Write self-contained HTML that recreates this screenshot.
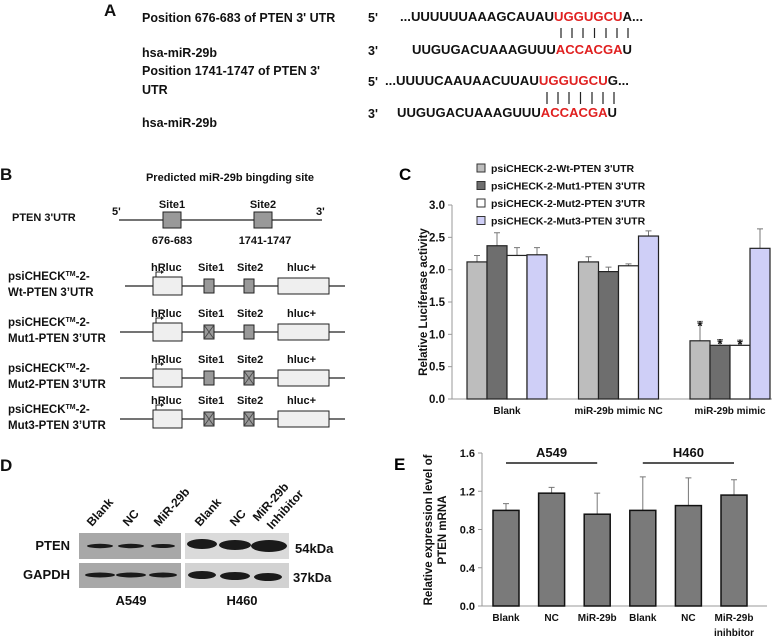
<!DOCTYPE html>
<html><head><meta charset="utf-8">
<style>
html,body{margin:0;padding:0;background:#fff;}
svg{display:block;font-family:"Liberation Sans",Arial,sans-serif;}
.b{font-weight:bold;}
</style></head>
<body>
<svg id="fig" width="778" height="642" viewBox="0 0 778 642">
<!-- Panel A -->
<g font-size="12.5" font-weight="bold" fill="#111">
<text x="104" y="16" font-size="17">A</text>
<text x="142" y="22">Position 676-683 of PTEN 3' UTR</text>
<text x="368" y="22">5'</text>
<text x="400" y="21" textLength="243" lengthAdjust="spacingAndGlyphs">...UUUUUUAAAGCAUAU<tspan fill="#e02020">UGGUGCU</tspan>A...</text>
<g stroke="#222" stroke-width="1.2">
<line x1="561" y1="28" x2="561" y2="38"/><line x1="572" y1="28" x2="572" y2="38"/><line x1="583" y1="28" x2="583" y2="38"/><line x1="594.5" y1="28" x2="594.5" y2="38"/><line x1="606" y1="28" x2="606" y2="38"/><line x1="617" y1="28" x2="617" y2="38"/><line x1="628" y1="28" x2="628" y2="38"/></g>
<text x="142" y="57">hsa-miR-29b</text>
<text x="368" y="55">3'</text>
<text x="412" y="54" textLength="220" lengthAdjust="spacingAndGlyphs">UUGUGACUAAAGUUU<tspan fill="#e02020">ACCACGA</tspan>U</text>
<text x="142" y="75">Position 1741-1747 of PTEN 3'</text>
<text x="142" y="94">UTR</text>
<text x="368" y="86">5'</text>
<text x="385" y="85" textLength="244" lengthAdjust="spacingAndGlyphs">...UUUUCAAUAACUUAU<tspan fill="#e02020">UGGUGCU</tspan>G...</text>
<g stroke="#222" stroke-width="1.2">
<line x1="547" y1="92" x2="547" y2="104"/><line x1="558" y1="92" x2="558" y2="104"/><line x1="569" y1="92" x2="569" y2="104"/><line x1="580.5" y1="92" x2="580.5" y2="104"/><line x1="592" y1="92" x2="592" y2="104"/><line x1="603" y1="92" x2="603" y2="104"/><line x1="614" y1="92" x2="614" y2="104"/></g>
<text x="368" y="118">3'</text>
<text x="397" y="117" textLength="220" lengthAdjust="spacingAndGlyphs">UUGUGACUAAAGUUU<tspan fill="#e02020">ACCACGA</tspan>U</text>
<text x="142" y="127">hsa-miR-29b</text>
</g>

<!-- Panel B -->
<g font-size="11" fill="#111" font-weight="bold">
<text x="0" y="180" font-size="17">B</text>
<text x="230" y="181" text-anchor="middle">Predicted miR-29b bingding site</text>
<text x="12" y="221">PTEN 3'UTR</text>
<text x="112" y="215">5'</text>
<text x="316" y="215">3'</text>
<line x1="119" y1="220" x2="322" y2="220" stroke="#222" stroke-width="1.2"/>
<rect x="163" y="212" width="18" height="16" fill="#999" stroke="#222"/>
<rect x="254" y="212" width="18" height="16" fill="#999" stroke="#222"/>
<text x="172" y="208" text-anchor="middle">Site1</text>
<text x="263" y="208" text-anchor="middle">Site2</text>
<text x="172" y="244" text-anchor="middle">676-683</text>
<text x="265" y="244" text-anchor="middle">1741-1747</text>
<g id="constructs"></g>
</g>

<!-- Panel C -->
<g id="panelC">
<text x="399" y="180" font-size="17" font-weight="bold">C</text>
</g>

<!-- Panel D -->
<g font-weight="bold" fill="#111">
<text x="0" y="471" font-size="17">D</text>
<g font-size="12">
<text transform="translate(92,527) rotate(-48)">Blank</text>
<text transform="translate(128,527) rotate(-48)">NC</text>
<text transform="translate(159,527) rotate(-48)">MiR-29b</text>
<text transform="translate(200,527) rotate(-48)">Blank</text>
<text transform="translate(235,527) rotate(-48)">NC</text>
<text transform="translate(258,522) rotate(-48)">MiR-29b</text>
<text transform="translate(272,530) rotate(-48)">Inhibitor</text>
</g>
<rect x="79" y="533" width="102" height="26" fill="#a8a8a8"/>
<rect x="79" y="563" width="102" height="25" fill="#a8a8a8"/>
<rect x="185" y="533" width="104" height="26" fill="#dadada"/>
<rect x="185" y="563" width="104" height="25" fill="#d2d2d2"/>
<g fill="#1a1a1a">
<ellipse cx="100" cy="546" rx="13" ry="2.2"/><ellipse cx="131" cy="546" rx="13" ry="2.2"/><ellipse cx="163" cy="546" rx="12" ry="2"/>
<ellipse cx="100" cy="575" rx="15" ry="2.5"/><ellipse cx="131" cy="575" rx="15" ry="2.5"/><ellipse cx="163" cy="575" rx="14" ry="2.5"/>
<ellipse cx="202" cy="544" rx="15" ry="5"/><ellipse cx="235" cy="545" rx="16" ry="5"/><ellipse cx="269" cy="546" rx="18" ry="6"/>
<ellipse cx="202" cy="575" rx="14" ry="4"/><ellipse cx="235" cy="576" rx="15" ry="4"/><ellipse cx="268" cy="577" rx="14" ry="4"/>
</g>
<text x="70" y="550" font-size="13" text-anchor="end">PTEN</text>
<text x="70" y="579" font-size="13" text-anchor="end">GAPDH</text>
<text x="295" y="553" font-size="13">54kDa</text>
<text x="293" y="582" font-size="13">37kDa</text>
<text x="131" y="605" font-size="13" text-anchor="middle">A549</text>
<text x="242" y="605" font-size="13" text-anchor="middle">H460</text>
</g>

<!-- Panel E -->
<g id="panelE">
<text x="394" y="470" font-size="17" font-weight="bold">E</text>
</g>
</svg>

<script>
// ---------- Panel C data ----------
var cCategories = ["Blank", "miR-29b mimic NC", "miR-29b mimic"];
var cSeriesNames = ["psiCHECK-2-Wt-PTEN 3'UTR", "psiCHECK-2-Mut1-PTEN 3'UTR", "psiCHECK-2-Mut2-PTEN 3'UTR", "psiCHECK-2-Mut3-PTEN 3'UTR"];
var cWt   = [2.12, 2.12, 0.90];
var cMut1 = [2.37, 1.97, 0.83];
var cMut2 = [2.22, 2.06, 0.83];
var cMut3 = [2.23, 2.52, 2.33];
var cWtErr   = [0.10, 0.08, 0.30];
var cMut1Err = [0.20, 0.07, 0.09];
var cMut2Err = [0.12, 0.03, 0.08];
var cMut3Err = [0.11, 0.08, 0.30];
var cStars = [[false,false,true],[false,false,true],[false,false,true],[false,false,false]];
var cTicks = [0, 0.5, 1.0, 1.5, 2.0, 2.5, 3.0];
var cTickLabels = ["0.0","0.5","1.0","1.5","2.0","2.5","3.0"];

// ---------- Panel E data ----------
var eCategories = ["Blank", "NC", "MiR-29b", "Blank", "NC", "MiR-29b"];
var eCategories2 = ["", "", "", "", "", "inihbitor"];
var eValues = [1.00, 1.18, 0.96, 1.00, 1.05, 1.16];
var eErrors = [0.07, 0.06, 0.22, 0.35, 0.29, 0.16];
var eTicks = [0, 0.4, 0.8, 1.2, 1.6];
var eTickLabels = ["0.0","0.4","0.8","1.2","1.6"];
var eGroups = ["A549", "H460"];

var NS = "http://www.w3.org/2000/svg";
function mk(tag, attrs, parent){var e=document.createElementNS(NS,tag);for(var k in attrs)e.setAttribute(k,attrs[k]);parent.appendChild(e);return e;}

// ---------- Panel B constructs ----------
(function(){
  var g=document.getElementById('constructs');
  var rows=[{y:286,n:"Wt",x1:false,x2:false},{y:332,n:"Mut1",x1:true,x2:false},{y:378,n:"Mut2",x1:false,x2:true},{y:419,n:"Mut3",x1:true,x2:true}];
  rows.forEach(function(r,i){
    var row=mk('g',{},g);
    
    
    var t1=mk('text',{x:8,y:r.y-6,'font-size':11.5},row);
    t1.appendChild(document.createTextNode('psiCHECK'));
    var sup=mk('tspan',{'font-size':7,dy:-4},t1);sup.textContent='TM';
    var rest=mk('tspan',{dy:4},t1);rest.textContent='-2-';
    var t2=mk('text',{x:8,y:r.y+10,'font-size':11.5},row);t2.textContent=r.n+'-PTEN 3\u2019UTR';
    mk('line',{x1:i==0?125:120,y1:r.y,x2:345,y2:r.y,stroke:'#222','stroke-width':1.2},row);
    mk('rect',{x:153,y:r.y-9,width:29,height:18,fill:'#efefef',stroke:'#222'},row);
    mk('path',{d:'M156 '+(r.y-9)+' V'+(r.y-14)+' H163',stroke:'#222',fill:'none'},row);
    mk('path',{d:'M161 '+(r.y-16)+' L164 '+(r.y-14)+' L161 '+(r.y-12)+'z',fill:'#222'},row);
    [[204,r.x1],[244,r.x2]].forEach(function(s){
      mk('rect',{x:s[0],y:r.y-7,width:10,height:14,fill:'#999',stroke:'#222'},row);
      if(s[1]){mk('path',{d:'M'+s[0]+' '+(r.y-7)+'L'+(s[0]+10)+' '+(r.y+7)+'M'+(s[0]+10)+' '+(r.y-7)+'L'+s[0]+' '+(r.y+7),stroke:'#444','stroke-width':0.8},row);}
    });
    mk('rect',{x:278,y:r.y-8,width:51,height:16,fill:'#efefef',stroke:'#222'},row);
    var labs=[['hRluc',151],['Site1',198],['Site2',237],['hluc+',287]];
    labs.forEach(function(l){var t=mk('text',{x:l[1],y:r.y-15,'font-size':11},row);t.textContent=l[0];});
  });
})();

// ---------- Panel C chart ----------
(function(){
  var g=document.getElementById('panelC');
  var y0=399, yTop=205, vmax=3.0;
  function yS(v){return y0-(y0-yTop)*v/vmax;}
  var gx0=467, groupStep=111.5, barW=20;
  function xS(ci,si){return gx0+ci*groupStep+si*barW;}
  var fills=['#bdbdbd','#6e6e6e','#ffffff','#cfcff7'];
  var series=[cWt,cMut1,cMut2,cMut3];
  var errs=[cWtErr,cMut1Err,cMut2Err,cMut3Err];
  mk('line',{x1:452,y1:yTop,x2:452,y2:y0,stroke:'#999'},g);
  mk('line',{x1:452,y1:y0,x2:772,y2:y0,stroke:'#999'},g);
  cTicks.forEach(function(t,i){
    mk('line',{x1:448,y1:yS(t),x2:452,y2:yS(t),stroke:'#999'},g);
    var tx=mk('text',{x:445,y:yS(t)+4,'text-anchor':'end','font-size':11.5,'font-weight':'bold',fill:'#111'},g);
    
    
    tx.textContent=cTickLabels[i];
  });
  var yl=mk('text',{transform:'translate(427,302) rotate(-90)','text-anchor':'middle','font-size':11.5,'font-weight':'bold',fill:'#111'},g);
  
  
  yl.textContent='Relative Luciferase activity';
  cCategories.forEach(function(c,ci){
    var t=mk('text',{x:xS(ci,0)+2*barW,y:414,'text-anchor':'middle','font-size':10,'font-weight':'bold',fill:'#111'},g);
    
    
    t.textContent=c;
  });
  series.forEach(function(s,si){
    s.forEach(function(v,ci){
      var x=xS(ci,si), top=yS(v), et=yS(v+errs[si][ci]);
      var eb=mk('path',{d:'M'+(x+barW/2)+' '+top+'V'+et+'M'+(x+barW/2-3)+' '+et+'H'+(x+barW/2+3),stroke:'#777',fill:'none'},g);
      
      
      var r=mk('rect',{x:x,y:top,width:barW,height:y0-top,fill:fills[si],stroke:'#222','stroke-width':1.2},g);
      
      
      if(cStars[si][ci]){
        var st=mk('text',{x:x+barW/2,y:et+9,'text-anchor':'middle','font-size':14,'font-weight':'bold',fill:'#111'},g);
        
        
        st.textContent='*';
      }
    });
  });
  cSeriesNames.forEach(function(n,si){
    var ly=168+si*17.5;
    var sw=mk('rect',{x:477,y:ly-4,width:8,height:8,fill:fills[si],stroke:'#333'},g);
    
    
    var lt=mk('text',{x:491,y:ly+4,'font-size':10.5,'font-weight':'bold',fill:'#111'},g);
    
    
    lt.textContent=n;
  });
})();

// ---------- Panel E chart ----------
(function(){
  var g=document.getElementById('panelE');
  var y0=606, yTop=453, vmax=1.6;
  function yS(v){return y0-(y0-yTop)*v/vmax;}
  var x0=506, step=45.6, barW=26;
  function xC(i){return x0+i*step;}
  mk('line',{x1:482,y1:yTop,x2:482,y2:y0,stroke:'#999'},g);
  mk('line',{x1:482,y1:y0,x2:767,y2:y0,stroke:'#999'},g);
  eTicks.forEach(function(t,i){
    mk('line',{x1:478,y1:yS(t),x2:482,y2:yS(t),stroke:'#999'},g);
    var tx=mk('text',{x:475,y:yS(t)+4,'text-anchor':'end','font-size':11,'font-weight':'bold',fill:'#111'},g);
    
    
    tx.textContent=eTickLabels[i];
  });
  var y1=mk('text',{transform:'translate(432,530) rotate(-90)','text-anchor':'middle','font-size':11.5,'font-weight':'bold',fill:'#111'},g);
  
  
  y1.textContent='Relative expression level of';
  var y2=mk('text',{transform:'translate(446,530) rotate(-90)','text-anchor':'middle','font-size':11.5,'font-weight':'bold',fill:'#111'},g);
  
  
  y2.textContent='PTEN mRNA';
  eValues.forEach(function(v,i){
    var cx=xC(i), top=yS(v), et=yS(v+eErrors[i]);
    var eb=mk('path',{d:'M'+cx+' '+top+'V'+et+'M'+(cx-3)+' '+et+'H'+(cx+3),stroke:'#777',fill:'none'},g);
    
    
    var r=mk('rect',{x:cx-barW/2,y:top,width:barW,height:y0-top,fill:'#7a7a7a',stroke:'#111','stroke-width':1.5},g);
    
    
    var t=mk('text',{x:cx,y:621,'text-anchor':'middle','font-size':10,'font-weight':'bold',fill:'#111'},g);
    
    
    t.textContent=eCategories[i];
    if(eCategories2[i]){
      var t2=mk('text',{x:cx,y:636,'text-anchor':'middle','font-size':10,'font-weight':'bold',fill:'#111'},g);
      
      
      t2.textContent=eCategories2[i];
    }
  });
  eGroups.forEach(function(n,gi){
    var a=xC(gi*3), b=xC(gi*3+2);
    var ln=mk('line',{x1:a,y1:463,x2:b,y2:463,stroke:'#555','stroke-width':2},g);
    
    
    var t=mk('text',{x:(a+b)/2,y:457,'text-anchor':'middle','font-size':13,'font-weight':'bold',fill:'#111'},g);
    
    
    t.textContent=n;
  });
})();
</script>
</body></html>
